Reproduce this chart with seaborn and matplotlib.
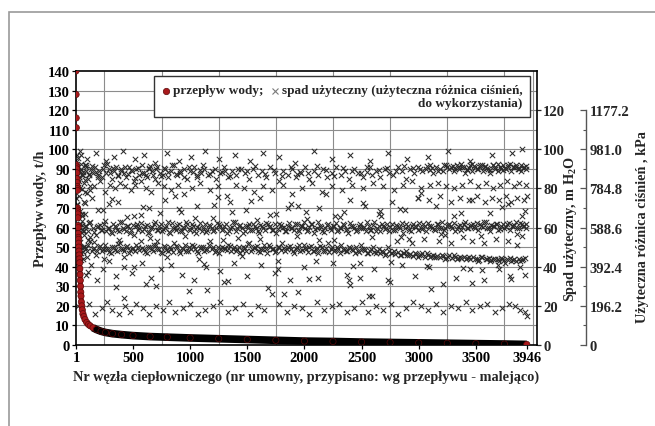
import numpy as np
import pandas as pd
import matplotlib
matplotlib.use("Agg")
import matplotlib.pyplot as plt
import seaborn as sns
from matplotlib.offsetbox import AnchoredOffsetbox, DrawingArea, HPacker, TextArea
from matplotlib.lines import Line2D
from matplotlib.patches import Rectangle
from matplotlib.ticker import FixedLocator

# ---------------- data ----------------
# water flow per heating node, nodes numbered by decreasing flow (t/h)
flow_nodes = [1, 2, 3, 4, 5, 6, 7, 8, 9, 10, 11, 12, 13, 14, 15, 16, 17, 18, 19, 20,
              21, 22, 23, 24, 25, 27, 29, 31, 33, 35, 37, 39, 41, 43, 45, 48, 52, 56, 62, 70,
              80, 95, 110, 125, 150, 180, 220, 260, 320, 400, 500, 650, 800, 1000, 1250,
              1500, 1750, 2000, 2250, 2500, 2750, 3000, 3250, 3500, 3750, 3946]
flow_tph = [140, 128, 116, 111, 92, 91, 90, 88, 85, 83, 81, 80, 79, 70, 69, 68, 67, 65, 61, 60,
            57, 55, 54, 52, 50, 48, 46, 44, 42, 39, 36, 33, 30, 27, 25, 22, 20, 18, 16, 14.5,
            13, 11.5, 10.5, 9.8, 8.8, 7.9, 7.0, 6.4, 5.8, 5.3, 4.8, 4.3, 4.0, 3.6, 3.2,
            2.8, 2.4, 2.0, 1.8, 1.5, 1.3, 1.1, 0.9, 0.7, 0.5, 0.3]

# available pressure head at the nodes (m H2O), grouped by level
top_nodes = [12, 40, 95, 180, 260, 330, 410, 520, 600, 690, 800, 905, 1010, 1130, 1250, 1390,
             1520, 1640, 1780, 1920, 2080, 2240, 2400, 2570, 2730, 2900, 3080, 3260, 3450,
             3640, 3820, 3905]
top_head = [97, 99, 95, 98, 94, 96, 99, 95, 97, 93, 98, 94, 96, 99, 95, 97, 94, 98, 96, 93,
            99, 95, 97, 94, 98, 95, 96, 99, 94, 97, 98, 100]

h90_nodes = [5, 18, 27, 45, 63, 78, 92, 110, 131, 150, 168, 190, 205, 228, 247, 266, 290, 312,
             335, 351, 372, 398, 420, 441, 463, 487, 508, 530, 552, 575, 598, 619, 640, 668,
             690, 712, 737, 760, 784, 809, 833, 861, 889, 915, 942, 970, 1001, 1030, 1062,
             1095, 1124, 1158, 1190, 1225, 1262, 1298, 1333, 1370, 1405, 1443, 1480, 1518,
             1552, 1590, 1628, 1665, 1702, 1740, 1777, 1815, 1852, 1890, 1930, 1968, 2005,
             2044, 2082, 2120, 2160, 2198, 2237, 2275, 2316, 2355, 2393, 2432, 2470, 2510,
             2548, 2588, 2625, 2665, 2702, 2740, 2778, 2815, 2852, 2890, 2925, 2960, 2995,
             3030, 3062, 3095, 3125, 3155, 3183, 3210, 3238, 3262, 3287, 3310, 3333, 3357,
             3380, 3402, 3425, 3447, 3470, 3492, 3515, 3537, 3560, 3582, 3605, 3628, 3650,
             3672, 3695, 3718, 3740, 3762, 3785, 3807, 3830, 3852, 3875, 3897, 3918, 3940]
h90_head = [88, 91, 86, 90, 87, 92, 89, 85, 90, 88, 91, 87, 89, 86, 92, 88, 90, 85, 89, 91,
            87, 90, 88, 86, 91, 89, 84, 90, 87, 92, 88, 86, 90, 89, 85, 91, 88, 87, 90, 86,
            89, 92, 87, 88, 90, 85, 89, 91, 86, 88, 90, 87, 89, 85, 88, 91, 86, 89, 87, 90,
            88, 85, 90, 87, 89, 86, 91, 88, 84, 89, 87, 90, 86, 88, 91, 85, 89, 87, 90, 86,
            88, 91, 87, 89, 85, 90, 88, 86, 91, 87, 89, 86, 90, 88, 87, 91, 89, 85, 90, 88,
            91, 89, 90, 92, 88, 91, 90, 89, 92, 90, 91, 89, 92, 90, 91, 88, 90, 92, 89, 91,
            90, 92, 89, 91, 90, 88, 92, 91, 89, 90, 92, 90, 91, 89, 91, 92, 90, 89, 91, 90]

h90b_nodes = [22, 58, 86, 117, 139, 176, 198, 236, 271, 298, 326, 366, 394, 427, 455, 482,
              514, 547, 579, 611, 646, 677, 703, 741, 772, 806, 845, 878, 911, 948, 987, 1022,
              1057, 1088, 1116, 1171, 1214, 1276, 1347, 1418, 1497, 1569, 1652, 1731, 1806,
              1884, 1957, 2031, 2113, 2189, 2262, 2341, 2418, 2497, 2576, 2649, 2724, 2803,
              2871, 2946, 3011, 3071, 3118, 3167, 3219, 3251, 3296, 3321, 3349, 3372, 3396,
              3419, 3441, 3466, 3488, 3511, 3533, 3556, 3578, 3601, 3623, 3646, 3668, 3691,
              3713, 3736, 3758, 3781, 3803, 3826, 3848, 3871, 3893, 3914, 3936, 3102, 2552,
              1935, 1302, 640]
h90b_head = [89.4, 86.7, 90.8, 87.3, 91.6, 88.2, 85.9, 89.7, 92.3, 87.8,
             90.4, 86.2, 88.9, 91.1, 87.5, 89.3, 85.4, 90.6, 88.1, 86.8,
             91.4, 87.1, 89.8, 86.4, 90.2, 88.6, 92.1, 87.6, 89.1, 85.7,
             90.9, 88.4, 86.9, 89.5, 91.8, 87.2, 89.9, 88.3, 86.1, 90.1,
             88.7, 91.3, 87.4, 89.2, 86.6, 90.7, 88.5, 87.9, 91.5, 89.6,
             86.3, 90.3, 88.8, 87.7, 91.2, 89.4, 90.5, 88.9, 91.7, 90.2,
             89.8, 91.4, 90.6, 89.1, 92.2, 90.8, 91.6, 89.7, 90.9, 92.4,
             91.1, 89.5, 90.4, 92.6, 91.3, 89.9, 90.7, 92.1, 91.5, 90.3,
             89.6, 91.8, 90.1, 92.3, 91.0, 89.4, 90.6, 91.9, 92.5, 90.8,
             91.2, 89.8, 92.0, 90.5, 91.4, 89.2, 88.6, 87.3, 89.1, 90.6]

h80_nodes = [9, 35, 70, 120, 160, 215, 255, 300, 345, 390, 430, 480, 520, 570, 615, 660, 720,
             775, 830, 890, 950, 1020, 1090, 1170, 1240, 1320, 1400, 1470, 1560, 1640, 1720,
             1810, 1890, 1980, 2070, 2150, 2240, 2330, 2420, 2510, 2600, 2690, 2780, 2860,
             2940, 3020, 3100, 3170, 3240, 3310, 3380, 3450, 3520, 3590, 3650, 3710, 3770,
             3830, 3880, 3935]
h80_head = [82, 80, 83, 79, 81, 84, 78, 82, 80, 83, 81, 79, 82, 84, 80, 78, 83, 81, 79, 82,
            77, 80, 83, 79, 81, 76, 82, 80, 78, 81, 79, 82, 77, 80, 83, 78, 81, 79, 82, 80,
            83, 81, 79, 82, 84, 80, 82, 83, 81, 80, 82, 84, 81, 83, 80, 82, 84, 81, 83, 82]

h70_nodes = [14, 50, 140, 240, 370, 505, 640, 780, 920, 1060, 1200, 1350, 1490, 1610, 1750,
             1880, 2010, 2130, 2270, 2400, 2530, 2650, 2770, 2880, 2990, 3090, 3190, 3280,
             3360, 3440, 3510, 3580, 3640, 3700, 3760, 3810, 3860, 3900, 3925, 3944]
h70_head = [72, 67, 75, 69, 73, 66, 70, 74, 68, 71, 65, 73, 69, 75, 67, 72, 68, 70, 66, 74,
            71, 67, 73, 69, 75, 74, 76, 73, 75, 74, 76, 73, 75, 74, 76, 73, 75, 66, 74, 76]

h60_nodes = [3, 20, 38, 57, 81, 104, 125, 147, 172, 196, 219, 243, 268, 291, 316, 340, 362,
             388, 413, 437, 459, 484, 510, 534, 556, 583, 608, 631, 655, 681, 706, 729, 753,
             778, 804, 827, 851, 877, 901, 925, 950, 976, 1001, 1026, 1050, 1075, 1101, 1126,
             1150, 1176, 1201, 1226, 1251, 1276, 1300, 1326, 1351, 1376, 1401, 1426, 1451,
             1477, 1502, 1527, 1552, 1577, 1603, 1628, 1653, 1678, 1703, 1729, 1754, 1779,
             1804, 1830, 1855, 1880, 1905, 1931, 1956, 1981, 2006, 2032, 2057, 2082, 2107,
             2133, 2158, 2183, 2208, 2234, 2259, 2284, 2309, 2335, 2360, 2385, 2410, 2436,
             2461, 2486, 2511, 2537, 2562, 2587, 2612, 2638, 2663, 2688, 2713, 2739, 2764,
             2789, 2814, 2840, 2865, 2890, 2915, 2941, 2966, 2991, 3016, 3042, 3067, 3092,
             3117, 3143, 3168, 3193, 3218, 3244, 3269, 3294, 3319, 3345, 3370, 3395, 3420,
             3446, 3471, 3496, 3521, 3547, 3572, 3597, 3622, 3648, 3673, 3698, 3723, 3748,
             3774, 3799, 3824, 3850, 3875, 3900, 3921, 3942]
h60_head = [60, 57, 62, 59, 61, 58, 63, 60, 56, 61, 59, 62, 58, 60, 57, 61, 59, 63, 60, 58,
            61, 59, 56, 62, 60, 58, 61, 57, 60, 62, 59, 61, 58, 60, 63, 57, 60, 59, 62, 58,
            60, 62, 59, 61, 57, 60, 58, 62, 59, 61, 58, 60, 62, 59, 61, 57, 60, 63, 58, 61,
            60, 58, 61, 59, 62, 60, 57, 61, 59, 62, 61, 59, 57, 62, 60, 58, 61, 60, 59, 62,
            58, 61, 60, 59, 62, 57, 60, 61, 58, 60, 62, 59, 61, 58, 60, 62, 59, 57, 61, 60,
            59, 62, 60, 58, 61, 59, 63, 60, 58, 61, 60, 58, 62, 59, 61, 60, 57, 62, 59, 61,
            61, 59, 60, 62, 58, 61, 60, 59, 62, 60, 59, 61, 62, 60, 58, 61, 59, 62, 60, 61,
            62, 60, 59, 61, 63, 60, 58, 61, 62, 59, 61, 60, 62, 59, 61, 63, 60, 62, 61, 60]

h60b_nodes = [10, 33, 66, 92, 113, 158, 184, 209, 232, 259, 283, 305, 329, 352, 377, 401, 425,
              449, 471, 497, 522, 545, 568, 594, 619, 644, 668, 693, 717, 741, 766, 791, 815,
              840, 864, 889, 914, 938, 963, 988, 1013, 1038, 1063, 1088, 1113, 1138, 1163,
              1188, 1213, 1238, 1263, 1289, 1314, 1339, 1364, 1389, 1414, 1439, 1464, 1489,
              1514, 1540, 1565, 1590, 1615, 1640, 1665, 1691, 1716, 1741, 1766, 1792, 1817,
              1842, 1867, 1893, 1918, 1943, 1968, 1994, 2019, 2044, 2070, 2095, 2120, 2145,
              2171, 2196, 2221, 2247, 2272, 2297, 2322, 2348, 2373, 2398, 2423, 2449, 2474,
              2499, 2524, 2550, 2575, 2600, 2626, 2651, 2676, 2701, 2727, 2752, 2777, 2802,
              2828, 2853, 2878, 2904, 2929, 2954, 2979, 3005, 3030, 3055, 3080, 3106, 3131,
              3156, 3181, 3207, 3232, 3257, 3282, 3308, 3333, 3358, 3383, 3409, 3434, 3459,
              3484, 3510, 3535, 3560, 3585, 3611, 3636, 3661, 3686, 3712, 3737, 3762, 3787,
              3813, 3838, 3863, 3888, 3914, 3939]
h60b_head = [59.3, 61.7, 58.4, 60.8, 62.2, 57.6, 60.1, 61.4, 58.9, 63.1,
             59.7, 57.8, 61.9, 60.4, 58.2, 62.6, 59.1, 60.9, 57.4, 61.2,
             60.6, 58.7, 62.4, 59.5, 61.1, 57.9, 60.3, 62.8, 58.6, 61.6,
             59.2, 60.7, 57.5, 62.1, 59.9, 61.3, 58.1, 60.5, 62.7, 59.4,
             61.8, 58.3, 60.2, 62.3, 59.6, 57.7, 61.5, 60.0, 58.8, 62.5,
             60.9, 59.1, 61.7, 58.5, 60.4, 62.9, 59.8, 61.2, 57.3, 60.6,
             62.0, 59.0, 60.8, 58.2, 61.4, 59.7, 62.4, 60.1, 58.6, 61.9,
             59.5, 61.1, 60.3, 58.0, 62.2, 59.9, 61.6, 58.9, 60.7, 62.6,
             58.4, 60.2, 61.8, 59.3, 62.8, 60.5, 57.9, 61.3, 59.6, 60.9,
             62.1, 58.7, 60.0, 61.5, 59.2, 62.3, 60.6, 58.3, 61.0, 59.8,
             60.4, 62.7, 59.0, 61.2, 58.5, 60.8, 62.0, 59.4, 61.6, 60.2,
             58.8, 61.4, 60.1, 62.5, 59.7, 60.9, 58.2, 61.8, 60.3, 62.2,
             59.5, 61.0, 62.4, 60.6, 59.1, 61.7, 60.0, 62.9, 59.8, 61.3,
             60.7, 62.1, 59.4, 61.5, 60.2, 62.6, 59.9, 61.1, 60.5, 62.3,
             61.9, 60.4, 62.8, 59.6, 61.2, 60.8, 62.0, 59.3, 61.6, 60.1,
             62.4, 60.9, 61.4, 59.7, 62.2, 60.6, 61.8]

h50_nodes = [7, 25, 48, 73, 98, 122, 149, 175, 201, 227, 254, 280, 306, 333, 359, 385, 412,
             438, 464, 491, 517, 543, 570, 596, 622, 649, 675, 701, 728, 754, 780, 807, 833,
             859, 886, 912, 938, 965, 991, 1017, 1044, 1070, 1096, 1123, 1149, 1175, 1202,
             1228, 1254, 1281, 1307, 1333, 1360, 1386, 1412, 1439, 1465, 1491, 1518, 1544,
             1570, 1597, 1623, 1649, 1676, 1702, 1728, 1755, 1781, 1807, 1834, 1860, 1886,
             1913, 1939, 1965, 1992, 2018, 2044, 2071, 2097, 2123, 2150, 2176, 2202, 2229,
             2255, 2281, 2308, 2334, 2360, 2387, 2413, 2439, 2466, 2492, 2518, 2545, 2571,
             2597, 2624, 2650, 2676, 2703, 2729, 2755, 2782, 2808, 2834, 2861, 2887, 2913,
             2940, 2966, 2992, 3019, 3045, 3071, 3098, 3124, 3150, 3177, 3203, 3229, 3256,
             3282, 3308, 3335, 3361, 3387, 3414, 3440, 3466, 3493, 3519, 3545, 3572, 3598,
             3624, 3651, 3677, 3703, 3730, 3756, 3782, 3809, 3835, 3861, 3888, 3914]
h50_head = [49, 52, 47, 50, 48, 53, 49, 46, 50, 48, 51, 49, 47, 50, 48, 52, 49, 50, 47, 49,
            48, 50, 53, 49, 47, 50, 48, 51, 49, 47, 50, 48, 49, 52, 50, 47, 49, 48, 50, 51,
            49, 47, 50, 48, 49, 53, 50, 48, 47, 50, 49, 51, 48, 50, 49, 47, 50, 48, 52, 49,
            50, 48, 49, 51, 47, 50, 49, 48, 50, 52, 48, 50, 49, 47, 50, 48, 51, 49, 50, 48,
            49, 47, 50, 48, 52, 49, 48, 50, 47, 49, 48, 50, 49, 47, 48, 51, 49, 47, 48, 50,
            47, 49, 48, 46, 50, 47, 48, 53, 46, 47, 48, 46, 52, 47, 45, 46, 54, 47, 45, 46,
            45, 53, 46, 44, 45, 52, 46, 44, 45, 55, 44, 45, 53, 44, 43, 45, 52, 44, 43, 44,
            54, 43, 44, 42, 53, 43, 44, 51, 43, 44]

h50b_nodes = [15, 41, 62, 85, 110, 137, 162, 188, 214, 241, 267, 293, 319, 346, 372, 398, 425,
              451, 477, 504, 530, 556, 583, 609, 635, 662, 688, 714, 741, 767, 793, 820, 846,
              872, 899, 925, 951, 978, 1004, 1030, 1057, 1083, 1109, 1136, 1162, 1188, 1215,
              1241, 1267, 1294, 1320, 1346, 1373, 1399, 1425, 1452, 1478, 1504, 1531, 1557,
              1583, 1610, 1636, 1662, 1689, 1715, 1741, 1768, 1794, 1820, 1847, 1873, 1899,
              1926, 1952, 1978, 2005, 2031, 2057, 2084, 2110, 2136, 2163, 2189, 2215, 2242,
              2268, 2294, 2321, 2347, 2373, 2400, 2426, 2452, 2479, 2505, 2531, 2558, 2584,
              2610, 2637, 2663, 2689, 2716, 2742, 2768, 2795, 2821, 2847, 2874, 2900, 2926,
              2953, 2979, 3005, 3032, 3058, 3084, 3111, 3137, 3163, 3190, 3216, 3242, 3269,
              3295, 3321, 3348, 3374, 3400, 3427, 3453, 3479, 3506, 3532, 3558, 3585, 3611,
              3637, 3664, 3690, 3716, 3743, 3769, 3795, 3822, 3848, 3874, 3901, 3927]
h50b_head = [48.6, 50.3, 47.4, 49.8, 51.2, 48.1, 49.5, 47.8, 50.7, 48.9,
             49.2, 47.6, 50.1, 48.4, 51.5, 49.0, 47.9, 50.5, 48.7, 49.6,
             50.9, 48.3, 49.4, 47.7, 50.2, 48.8, 51.0, 49.3, 47.5, 50.4,
             48.5, 49.9, 47.3, 50.8, 48.2, 49.7, 51.3, 48.0, 49.1, 50.6,
             47.8, 49.4, 50.0, 48.6, 51.1, 49.2, 47.6, 50.3, 48.9, 49.8,
             48.4, 50.7, 49.0, 47.9, 50.2, 48.7, 49.5, 51.4, 48.1, 49.6,
             50.5, 47.7, 49.3, 48.8, 50.9, 49.1, 47.5, 50.1, 48.3, 49.7,
             48.9, 50.4, 47.8, 49.2, 51.0, 48.5, 49.8, 47.6, 50.6, 48.2,
             49.4, 50.8, 48.0, 49.6, 47.4, 50.3, 48.7, 49.1, 51.2, 48.6,
             47.9, 49.5, 48.3, 50.0, 47.6, 49.0, 48.4, 47.2, 48.8, 47.5,
             48.1, 46.8, 47.7, 46.4, 48.2, 47.0, 46.6, 47.5, 46.2, 46.9,
             45.8, 46.7, 45.5, 46.3, 45.9, 46.8, 45.2, 46.0, 45.6, 44.9,
             45.7, 44.8, 45.3, 44.6, 45.9, 44.4, 45.1, 44.7, 44.2, 45.0,
             44.5, 43.9, 44.8, 44.1, 43.6, 44.9, 43.8, 44.3, 43.4, 44.0,
             43.7, 44.4, 43.2, 43.9, 44.6, 43.5, 42.9, 43.8, 43.3, 44.2]

# nodes scattered between the main head levels
mid_nodes = [31, 77, 128, 193, 246, 318, 379, 447, 512, 587,
             651, 734, 798, 871, 957, 1043, 1119, 1207, 1288, 1366,
             1453, 1534, 1611, 1697, 1772, 1859, 1937, 2021, 2104, 2186,
             2263, 2347, 2426, 2511, 2593, 2671, 2756, 2834, 2913, 2997,
             3076, 3154, 3233, 3311, 3392, 3468, 3547, 3626, 3704, 3783,
             3861, 3928, 57, 163, 289, 423, 566, 712, 903, 1081,
             1247, 1418, 1587, 1769, 1948, 2131, 2309, 2487, 2662, 2841,
             3018, 3197, 3374, 3553, 3731, 3902, 104, 355, 618, 987,
             1329, 1681, 2043, 2398, 2752, 3109, 3466, 3811, 1823, 2567]
mid_head = [66.8, 72.4, 55.3, 68.9, 43.7, 74.6, 53.9, 65.2, 39.8, 70.7,
            54.6, 67.3, 44.9, 76.1, 55.8, 64.7, 41.2, 71.5, 53.4, 68.2,
            45.6, 73.8, 54.1, 66.4, 38.7, 70.2, 55.6, 64.3, 43.1, 77.2,
            53.7, 67.9, 40.6, 72.8, 55.1, 65.8, 42.3, 69.6, 54.4, 75.3,
            40.2, 70.9, 56.2, 66.1, 39.4, 74.2, 55.7, 67.6, 38.9, 72.1,
            56.8, 68.7, 63.4, 52.8, 71.9, 45.2, 66.2, 53.2, 69.4, 44.1,
            75.6, 54.9, 63.8, 42.8, 71.2, 53.6, 65.4, 41.7, 68.3, 55.4,
            77.8, 56.5, 67.2, 38.2, 70.4, 55.9, 37.5, 29.6, 31.4, 27.8,
            32.7, 29.1, 33.5, 30.6, 32.2, 28.7, 31.9, 33.8, 26.3, 24.9]

h40_nodes = [11, 30, 60, 88, 135, 185, 238, 290, 350, 420, 495, 575, 660, 745, 835, 930, 1030,
             1140, 1260, 1380, 1500, 1620, 1745, 1870, 2000, 2120, 2250, 2370, 2490, 2610,
             2730, 2850, 2970, 3090, 3210, 3330, 3450, 3570, 3690, 3800, 3890, 3930, 2390,
             1300, 700]
h40_head = [42, 38, 44, 36, 41, 33, 39, 43, 35, 40, 37, 42, 34, 39, 41, 36, 33, 40, 38, 42,
            35, 41, 37, 33, 40, 34, 42, 36, 34, 39, 33, 41, 35, 40, 31, 34, 39, 33, 41, 35,
            40, 36, 33, 32, 30]

h20_nodes = [16, 55, 115, 170, 230, 275, 320, 380, 430, 470, 530, 590, 640, 700, 760, 815, 870,
             940, 1000, 1070, 1130, 1200, 1260, 1330, 1390, 1460, 1520, 1590, 1650, 1720,
             1780, 1850, 1910, 1980, 2040, 2110, 2170, 2240, 2300, 2370, 2430, 2500, 2560,
             2630, 2690, 2760, 2820, 2890, 2950, 3020, 3080, 3150, 3210, 3280, 3340, 3410,
             3470, 3540, 3600, 3670, 3730, 3790, 3840, 3890, 3930, 3945, 2590, 1940, 1150, 420]
h20_head = [20, 17, 21, 16, 19, 22, 18, 16, 20, 17, 21, 19, 16, 20, 18, 22, 17, 19, 21, 16,
            18, 20, 22, 17, 19, 21, 16, 20, 18, 26, 21, 17, 20, 19, 16, 22, 18, 20, 21, 17,
            19, 22, 17, 20, 18, 21, 16, 19, 22, 20, 18, 21, 17, 20, 19, 22, 18, 20, 21, 17,
            19, 21, 20, 18, 17, 15, 25, 27, 28, 24]

# the largest consumers near the start of the numbering
first_nodes = [2, 4, 6, 8, 13, 17, 19, 23, 26, 29, 32, 36, 39, 43, 47, 51, 54, 59, 64, 68,
               72, 76, 83, 89, 94, 101, 106, 112, 118, 124, 2, 6, 10, 21, 28, 34, 44, 53, 67, 79]
first_head = [93.5, 55.2, 86.1, 71.4, 64.8, 95.7, 46.3, 82.9, 58.6, 76.2,
              89.1, 52.7, 68.4, 97.3, 43.6, 79.8, 61.2, 88.5, 49.9, 73.1,
              56.4, 84.3, 66.7, 91.9, 45.1, 77.6, 53.8, 86.9, 62.5, 81.4,
              75.3, 41.8, 69.2, 54.6, 83.7, 47.2, 92.6, 65.9, 58.1, 78.4]

x_tick_values = [1, 500, 1000, 1500, 2000, 2500, 3000, 3500, 3946]
head_ticks = [0, 20, 40, 60, 80, 100, 120]
kpa_ticks = [0, 196.2, 392.4, 588.6, 784.8, 981.0, 1177.2]
kpa_labels = ["0", "196.2", "392.4", "588.6", "784.8", "981.0", "1177.2"]
M_TO_KPA = 9.81

# ---------------- tables ----------------
flow_df = pd.DataFrame({"node": flow_nodes, "tph": flow_tph})
last_node = flow_df["node"].max()
flow_df["segment"] = np.where((flow_df["node"] <= 150) | (flow_df["node"] == last_node),
                              "steep", "tail")

spad_df = pd.DataFrame({
    "node": top_nodes + h90_nodes + h90b_nodes + h80_nodes + h70_nodes + h60_nodes
            + h60b_nodes + h50_nodes + h50b_nodes + mid_nodes + h40_nodes + h20_nodes
            + first_nodes,
    "head": top_head + h90_head + h90b_head + h80_head + h70_head + h60_head
            + h60b_head + h50_head + h50b_head + mid_head + h40_head + h20_head
            + first_head,
})

# ---------------- style ----------------
sns.set_style("ticks")
plt.rcParams["font.family"] = ["Liberation Serif", "DejaVu Serif"]
plt.rcParams["font.weight"] = "bold"
plt.rcParams["mathtext.fontset"] = "custom"
plt.rcParams["mathtext.rm"] = "Liberation Serif:bold"
plt.rcParams["mathtext.it"] = "Liberation Serif:bold"
plt.rcParams["mathtext.bf"] = "Liberation Serif:bold"

RED = "#a8191b"
RED_EDGE = "#5c0a0a"
GRID = "#8c8c8c"
TICK_FS = 10.5
LABEL_FS = 10.3

fig = plt.figure(figsize=(6.55, 4.27), dpi=100)
ax = fig.add_axes([0.1160, 0.1897, 0.7038, 0.6417])
ax2 = ax.twinx()
ax3 = ax.twinx()

# ax2 (head scale) sits underneath and carries the grid and the head markers
ax2.set_zorder(1)
ax.set_zorder(2)
ax3.set_zorder(0)
ax.patch.set_visible(False)
ax2.patch.set_visible(True)
ax2.patch.set_facecolor("white")
ax3.patch.set_visible(False)

ax.set_xlim(1, 4035)
ax.set_ylim(0, 140)
ax2.set_ylim(0, 140)
ax3.set_ylim(0, 140 * M_TO_KPA)

# grid: every 10 m vertically, every 250 nodes horizontally
ax2.xaxis.set_visible(True)
ax2.xaxis.set_minor_locator(FixedLocator(list(range(250, 4001, 250))))
ax2.tick_params(axis="x", which="both", bottom=False, top=False,
                labelbottom=False, labeltop=False)
ax2.yaxis.set_major_locator(FixedLocator(head_ticks))
ax2.yaxis.set_minor_locator(FixedLocator(list(range(10, 141, 20))))
ax2.grid(axis="y", which="both", color=GRID, lw=0.8)
ax2.grid(axis="x", which="minor", color=GRID, lw=0.8)
ax2.grid(axis="x", which="major", visible=False)
ax2.set_axisbelow(True)
ax2.yaxis.set_tick_params(which="minor", length=0)

# head markers
sns.scatterplot(data=spad_df, x="node", y="head", marker="x", color="#2a2a2a",
                s=15, linewidth=0.75, ax=ax2, zorder=2)

# flow curve
steep = flow_df[(flow_df["node"] >= 21) & (flow_df["node"] <= 220)]
tail = flow_df[flow_df["node"] >= 150]
sns.lineplot(data=steep, x="node", y="tph", color=RED, lw=3.6, ax=ax, zorder=3,
             solid_capstyle="butt")
sns.lineplot(data=tail, x="node", y="tph", color="black", lw=5.5, ax=ax, zorder=4,
             solid_capstyle="butt")
sns.scatterplot(data=flow_df, x="node", y="tph", hue="segment",
                palette={"steep": RED, "tail": "black"}, s=20, linewidth=0.5,
                edgecolor=RED_EDGE, legend=False, ax=ax, zorder=5)

# left axis / bottom axis
ax.set_yticks(list(range(0, 141, 10)))
ax.set_xticks(x_tick_values)
ax.set_xticklabels([str(v) for v in x_tick_values])
ax.xaxis.set_minor_locator(FixedLocator(list(range(250, 4001, 250))))
ax.tick_params(axis="both", which="major", labelsize=TICK_FS, length=3, width=0.9,
               direction="out", pad=1.5, colors="black")
ax.tick_params(axis="x", which="minor", length=0)
ax.set_xlabel("")
ax.set_ylabel("")
for side in ["left", "right", "top", "bottom"]:
    ax.spines[side].set_visible(True)
    ax.spines[side].set_color("black")
    ax.spines[side].set_linewidth(1.2)

# right axis: head
ax2.set_yticks(head_ticks)
ax2.tick_params(axis="y", which="major", labelsize=TICK_FS, length=3, width=0.9,
                direction="out", pad=1.5)
ax2.set_ylabel("")
ax2.set_xlabel("")
for side in ["left", "top", "bottom", "right"]:
    ax2.spines[side].set_visible(False)

# outer right axis: pressure difference in kPa
ax3.spines["right"].set_position(("axes", 1.106))
for side in ["left", "top", "bottom"]:
    ax3.spines[side].set_visible(False)
ax3.spines["right"].set_bounds(0, kpa_ticks[-1])
ax3.spines["right"].set_color("#555555")
ax3.spines["right"].set_linewidth(1.0)
ax3.set_yticks(kpa_ticks)
ax3.set_yticklabels(kpa_labels)
ax3.yaxis.set_minor_locator(FixedLocator([98.1 + 196.2 * i for i in range(6)]))
ax3.tick_params(axis="y", which="major", labelsize=TICK_FS, length=4, width=0.9,
                direction="in", pad=2.5, color="#555555")
ax3.tick_params(axis="y", which="minor", length=2.5, width=0.8, direction="in",
                color="#555555")

# axis titles
ax.text(-0.078, 0.5, "Przepływ wody, t/h", rotation=90, ha="center", va="center",
        transform=ax.transAxes, fontsize=LABEL_FS)
ax.text(1.072, 0.427, "Spad użyteczny, m H$_2$O", rotation=90, ha="center",
        va="center", transform=ax.transAxes, fontsize=LABEL_FS)
ax.text(1.228, 0.434, "Użyteczna różnica ciśnień , kPa", rotation=90, ha="center",
        va="center", transform=ax.transAxes, fontsize=LABEL_FS)
ax.text(0.5, -0.113,
        "Nr węzła ciepłowniczego (nr umowny, przypisano: wg przepływu - malejąco)",
        ha="center", va="center", transform=ax.transAxes, fontsize=LABEL_FS)

# key box
LEG_FS = 9.5
dot_area = DrawingArea(7, 10, 0, 0)
dot_area.add_artist(Line2D([3.0], [4.6], marker="o", ms=4.6, color=RED, mec=RED_EDGE,
                           mew=0.5, ls=""))
flow_text = TextArea("przepływ wody;", textprops=dict(fontsize=LEG_FS, fontweight="bold"))
cross_area = DrawingArea(10, 10, 0, 0)
cross_area.add_artist(Line2D([6.5], [4.6], marker="x", ms=4.8, color="#7a7a7a", mew=0.8,
                             ls=""))
head_text = TextArea("spad użyteczny (użyteczna różnica ciśnień,\ndo wykorzystania)",
                     textprops=dict(fontsize=LEG_FS, fontweight="bold",
                                    multialignment="right"))
key_row = HPacker(children=[dot_area, flow_text, cross_area, head_text], align="top",
                  pad=0, sep=1.5)
key_box = AnchoredOffsetbox(loc="upper right", child=key_row, pad=0.55, borderpad=0,
                            frameon=True, bbox_to_anchor=(0.985, 0.982),
                            bbox_transform=ax.transAxes)
key_box.patch.set_boxstyle("square", pad=0)
key_box.patch.set_edgecolor("#333333")
key_box.patch.set_linewidth(1.0)
key_box.patch.set_facecolor("white")
key_box.set_zorder(10)
ax.add_artist(key_box)

# page frame
fig.add_artist(Rectangle((9 / 655, -0.05), 1.1, 0.9696 + 0.05, transform=fig.transFigure,
                         fill=False, edgecolor="#9a9a9a", linewidth=1.2))

fig.savefig("out.png", dpi=100)
